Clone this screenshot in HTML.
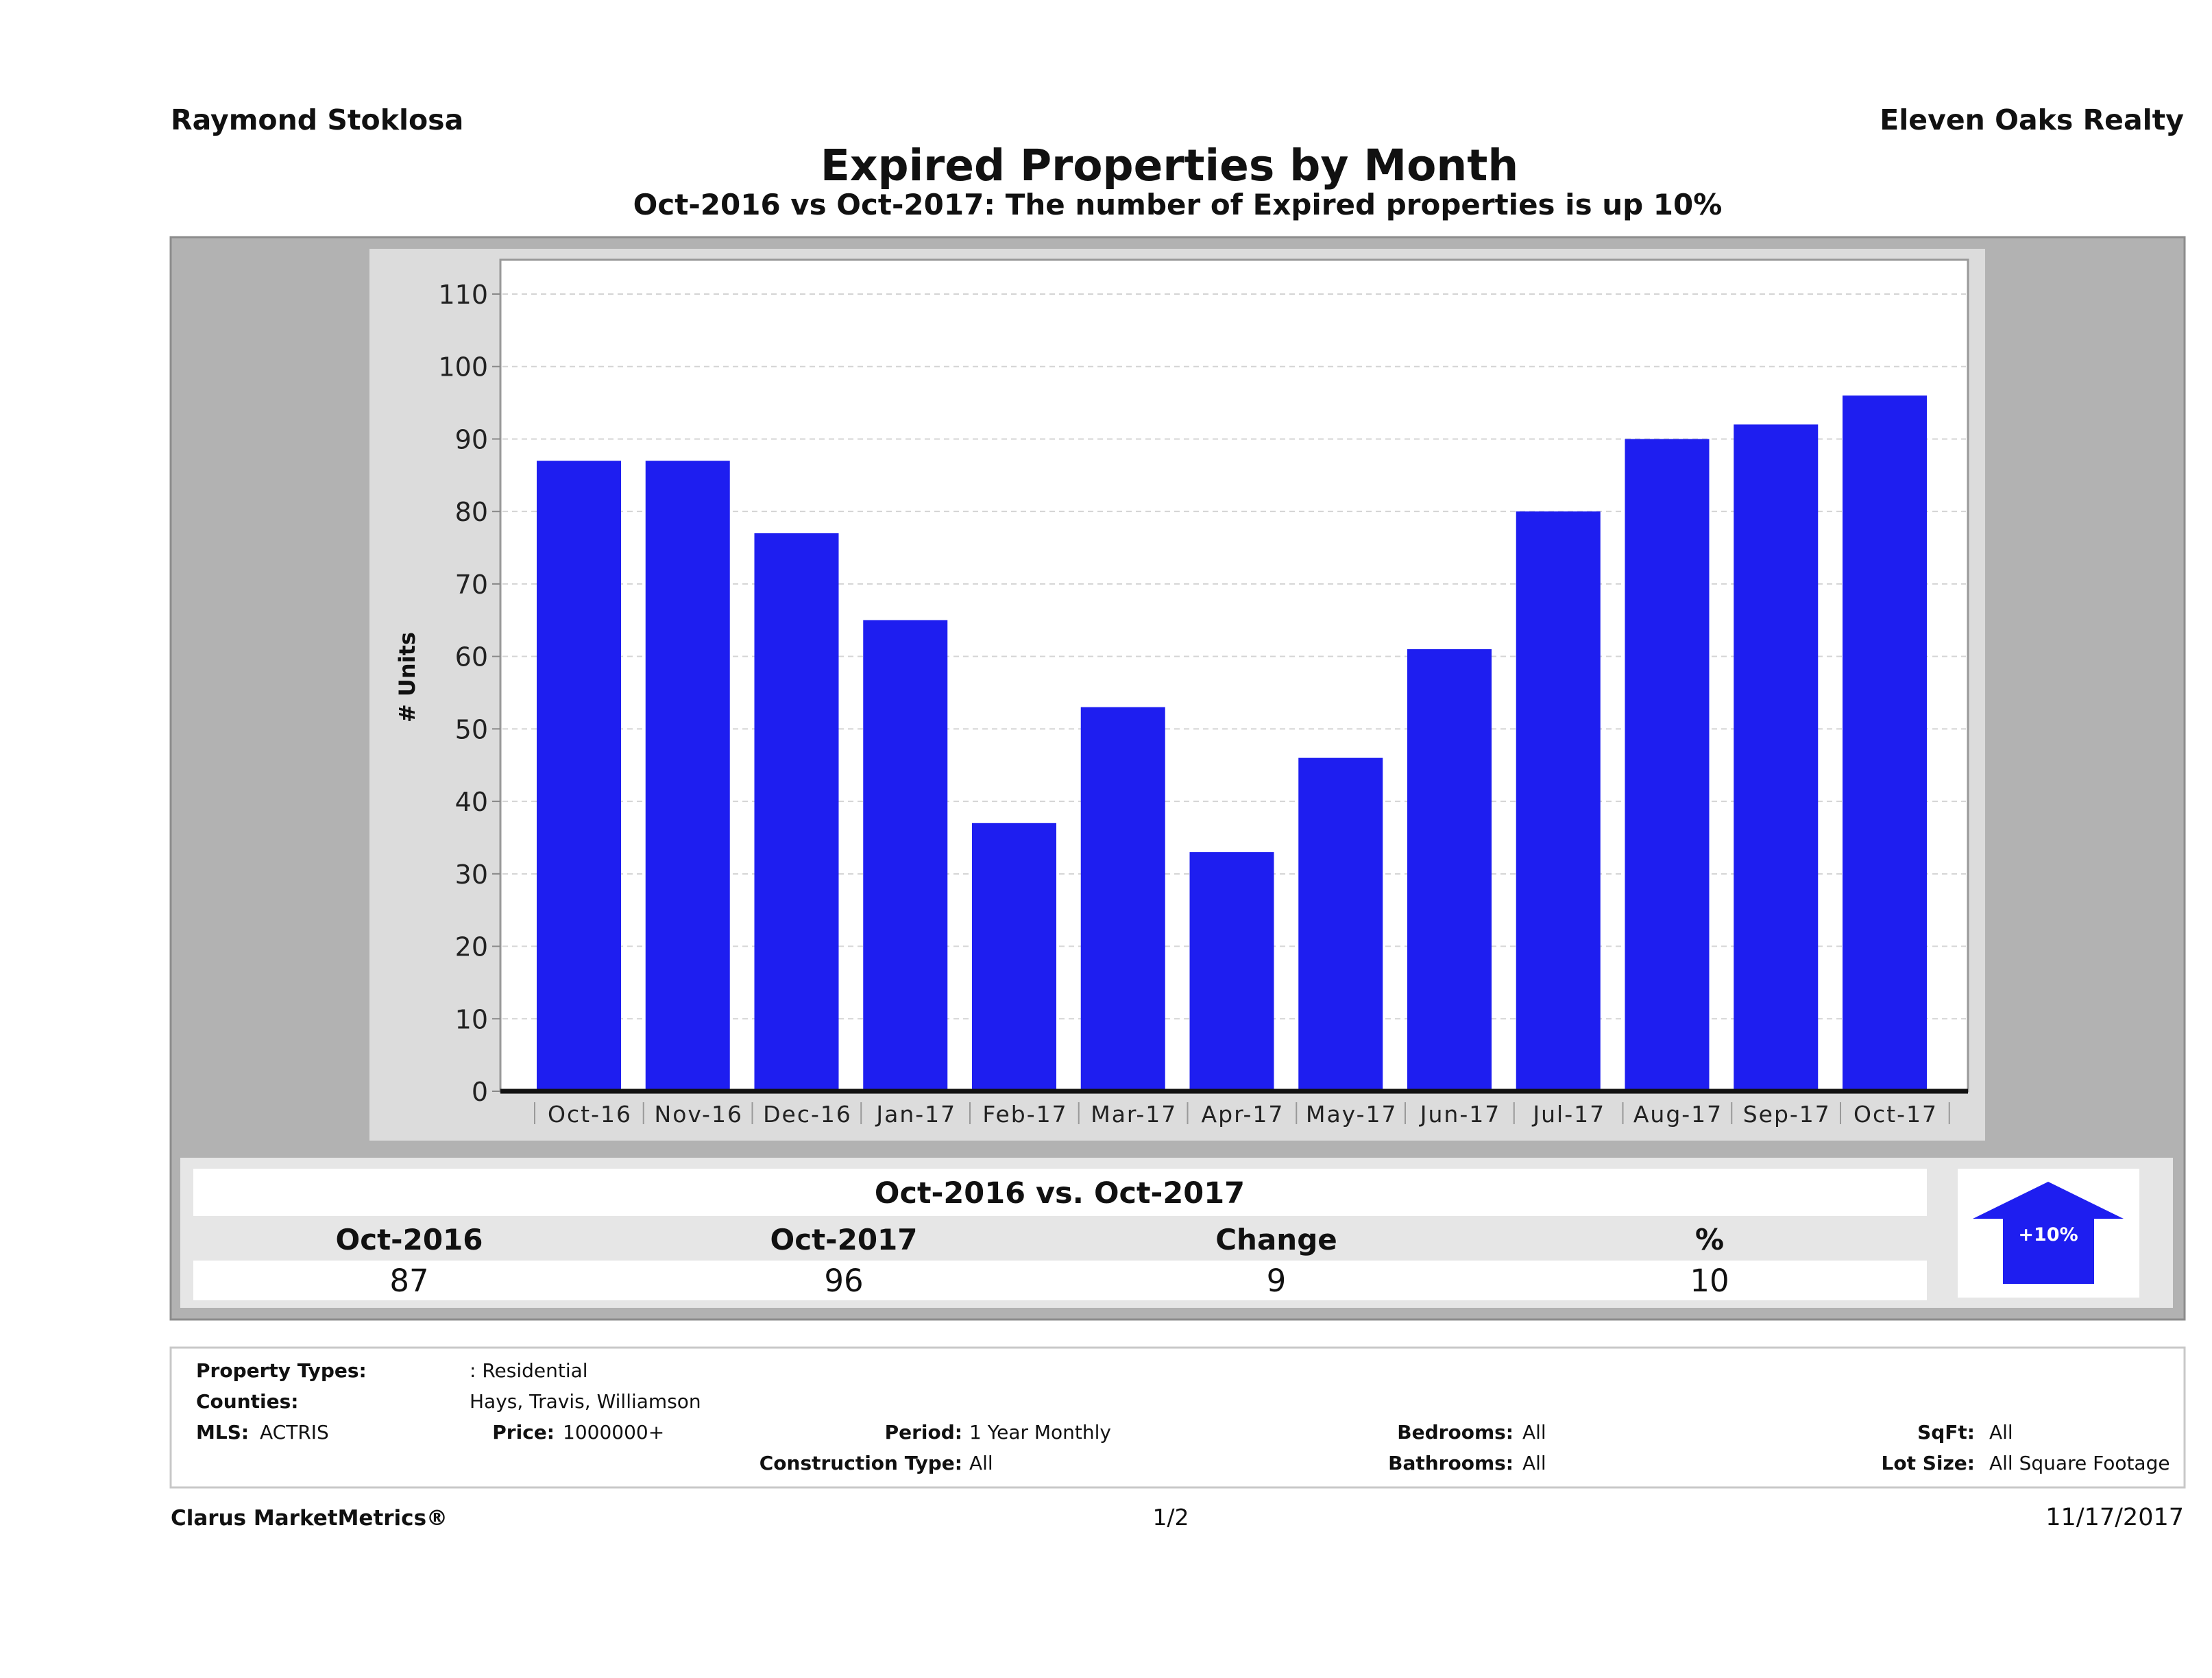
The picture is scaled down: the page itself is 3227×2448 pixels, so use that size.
<!DOCTYPE html>
<html><head><meta charset="utf-8"><style>
html,body{margin:0;padding:0;background:#fff}
svg{display:block}
text{font-family:"DejaVu Sans","Liberation Sans",sans-serif}
</style></head><body>
<svg id="page" width="3227" height="2448" viewBox="0 0 3227 2448" xmlns="http://www.w3.org/2000/svg">
<text x="249" y="189" font-size="41" font-weight="bold" fill="#111">Raymond Stoklosa</text>
<text x="3186" y="189" font-size="41" font-weight="bold" fill="#111" text-anchor="end">Eleven Oaks Realty</text>
<text x="1706" y="263" font-size="63" font-weight="bold" fill="#111" text-anchor="middle">Expired Properties by Month</text>
<text x="1718" y="313" font-size="42" font-weight="bold" fill="#111" text-anchor="middle">Oct-2016 vs Oct-2017: The number of Expired  properties is up 10%</text>

<rect x="249" y="346" width="2938" height="1579" fill="#b2b2b2" stroke="#8c8c8c" stroke-width="3"/>
<rect x="539" y="363" width="2357" height="1301" fill="#dcdcdc"/>
<rect x="730" y="379" width="2141" height="1213" fill="#fff" stroke="#999" stroke-width="3"/>
<g id="grid"></g>
<g id="yticks"></g>
<g id="bars"></g>
<g id="xticks"></g>
<text transform="translate(605,988) rotate(-90)" font-size="32" font-weight="bold" fill="#111" text-anchor="middle"># Units</text>

<rect x="263" y="1689" width="2907" height="219" fill="#e6e6e6"/>
<rect x="282" y="1705" width="2529" height="69" fill="#fff"/>
<rect x="282" y="1839" width="2529" height="58" fill="#fff"/>
<text x="1546" y="1755" font-size="43" font-weight="bold" fill="#111" text-anchor="middle">Oct-2016 vs. Oct-2017</text>
<g font-size="42" font-weight="bold" fill="#111" text-anchor="middle">
<text x="597" y="1823">Oct-2016</text>
<text x="1231" y="1823">Oct-2017</text>
<text x="1862" y="1823">Change</text>
<text x="2494" y="1823">%</text>
</g>
<g font-size="45" fill="#111" text-anchor="middle">
<text x="597" y="1884">87</text>
<text x="1231" y="1884">96</text>
<text x="1862" y="1884">9</text>
<text x="2494" y="1884">10</text>
</g>
<rect x="2856" y="1705" width="265" height="188" fill="#fff"/>
<polygon points="2988,1724 3098,1778 3055,1778 3055,1873 2922,1873 2922,1778 2878,1778" fill="#1e1ef0"/>
<text x="2988" y="1810" font-size="27" font-weight="bold" fill="#fff" text-anchor="middle">+10%</text>

<rect x="249" y="1966" width="2938" height="204" fill="#fff" stroke="#c8c8c8" stroke-width="3"/>
<g font-size="28" fill="#111">
<text x="286" y="2009" font-weight="bold">Property Types:</text>
<text x="685" y="2009">: Residential</text>
<text x="286" y="2054" font-weight="bold">Counties:</text>
<text x="685" y="2054">Hays, Travis, Williamson</text>
<text x="286" y="2099" font-weight="bold">MLS:</text>
<text x="379" y="2099">ACTRIS</text>
<text x="809" y="2099" font-weight="bold" text-anchor="end">Price:</text>
<text x="821" y="2099">1000000+</text>
<text x="1404" y="2099" font-weight="bold" text-anchor="end">Period:</text>
<text x="1414" y="2099">1 Year Monthly</text>
<text x="1404" y="2144" font-weight="bold" text-anchor="end">Construction Type:</text>
<text x="1414" y="2144">All</text>
<text x="2208" y="2099" font-weight="bold" text-anchor="end">Bedrooms:</text>
<text x="2221" y="2099">All</text>
<text x="2208" y="2144" font-weight="bold" text-anchor="end">Bathrooms:</text>
<text x="2221" y="2144">All</text>
<text x="2881" y="2099" font-weight="bold" text-anchor="end">SqFt:</text>
<text x="2902" y="2099">All</text>
<text x="2881" y="2144" font-weight="bold" text-anchor="end">Lot Size:</text>
<text x="2902" y="2144">All Square Footage</text>
</g>
<text x="249" y="2225" font-size="31" font-weight="bold" fill="#111">Clarus MarketMetrics®</text>
<text x="1708" y="2225" font-size="33" fill="#111" text-anchor="middle">1/2</text>
<text x="3186" y="2225" font-size="35" fill="#111" text-anchor="end">11/17/2017</text>
</svg>
<script>
const categories = ["Oct-16","Nov-16","Dec-16","Jan-17","Feb-17","Mar-17","Apr-17","May-17","Jun-17","Jul-17","Aug-17","Sep-17","Oct-17"];
const expiredValues = [87,87,77,65,37,53,33,46,61,80,90,92,96];
const yTicks = [0,10,20,30,40,50,60,70,80,90,100,110];

const NS = "http://www.w3.org/2000/svg";
const y0 = 1592, pxPerUnit = (1592 - 429) / 110;
function yScale(v){ return y0 - v * pxPerUnit; }
const firstLeft = 783, pitch = 158.75, barW = 123;
function xLeft(i){ return firstLeft + i * pitch; }
function mk(tag, attrs){ const e = document.createElementNS(NS, tag); for (const k in attrs) e.setAttribute(k, attrs[k]); return e; }

const grid = document.getElementById('grid');
const yt = document.getElementById('yticks');
yTicks.forEach(function(t){
  const y = yScale(t);
  if (t > 0) {
    const g = mk('line', {x1:733, x2:2868, y1:y, y2:y, stroke:'#d4d4d4', 'stroke-width':2, 'stroke-dasharray':'8,6'});
    
    
    grid.appendChild(g);
  }
  const tk = mk('line', {x1:718, x2:730, y1:y, y2:y, stroke:'#888', 'stroke-width':2});
  
  
  yt.appendChild(tk);
  const tx = mk('text', {x:712, y:y + 14, 'font-size':38, fill:'#222', 'text-anchor':'end'});
  tx.textContent = t;
  
  
  yt.appendChild(tx);
});

const bars = document.getElementById('bars');
expiredValues.forEach(function(v, i){
  const r = mk('rect', {x:xLeft(i), y:yScale(v), width:barW, height:y0 - yScale(v), fill:'#1e1ef0'});
  
  
  bars.appendChild(r);
});

const xt = document.getElementById('xticks');
const axis = mk('line', {x1:730, x2:2871, y1:y0, y2:y0, stroke:'#111', 'stroke-width':7});


xt.appendChild(axis);
categories.forEach(function(c, i){
  const cx = xLeft(i) + barW / 2 + 16;
  const sep = mk('line', {x1:xLeft(i) - 3, x2:xLeft(i) - 3, y1:1608, y2:1640, stroke:'#999', 'stroke-width':2});
  
  
  xt.appendChild(sep);
  const tx = mk('text', {x:cx, y:1637, 'font-size':33, 'letter-spacing':2, fill:'#222', 'text-anchor':'middle'});
  tx.textContent = c;
  
  
  xt.appendChild(tx);
});
const lastSep = mk('line', {x1:xLeft(categories.length) - 3, x2:xLeft(categories.length) - 3, y1:1608, y2:1640, stroke:'#999', 'stroke-width':2});


xt.appendChild(lastSep);
</script>
</body></html>
